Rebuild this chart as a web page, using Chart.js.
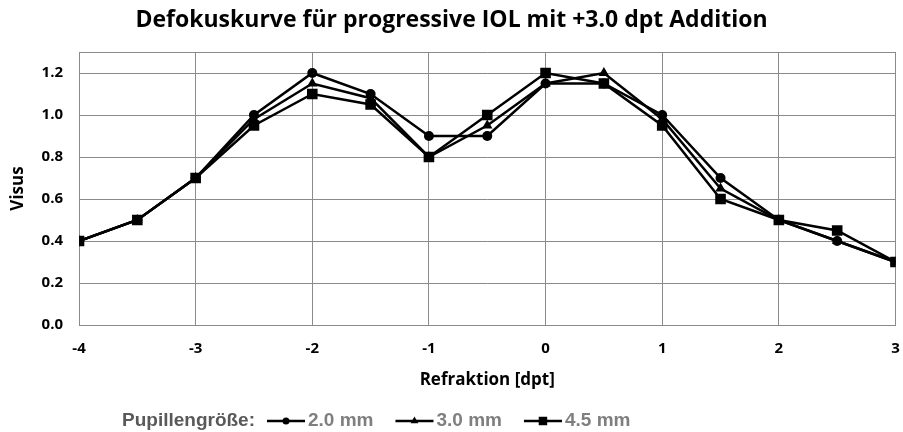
<!DOCTYPE html>
<html>
<head>
<meta charset="utf-8">
<script src="https://cdn.jsdelivr.net/npm/chart.js@4/dist/chart.umd.min.js"></script>
<style>
  html, body { margin: 0; padding: 0; background: #fff; }
  canvas { display: block; }
</style>
</head>
<body>
<canvas id="defocusCanvas" width="903" height="432"></canvas>
<script>
// refraction values (dpt)
var refraktion = [-4, -3.5, -3, -2.5, -2, -1.5, -1, -0.5, 0, 0.5, 1, 1.5, 2, 2.5, 3];

// visual acuity per pupil size
var visus20 = [0.4, 0.5, 0.7, 1.0, 1.2, 1.1, 0.9, 0.9, 1.15, 1.15, 1.0, 0.7, 0.5, 0.4, 0.3];
var visus30 = [0.4, 0.5, 0.7, 0.98, 1.15, 1.08, 0.8, 0.95, 1.15, 1.2, 0.98, 0.65, 0.5, 0.4, 0.3];
var visus45 = [0.4, 0.5, 0.7, 0.95, 1.1, 1.05, 0.8, 1.0, 1.2, 1.15, 0.95, 0.6, 0.5, 0.45, 0.3];

var seriesNames = ["2.0 mm", "3.0 mm", "4.5 mm"];
var xTicks = [-4, -3, -2, -1, 0, 1, 2, 3];
var yTicks = [0, 0.2, 0.4, 0.6, 0.8, 1.0, 1.2];
var yTop = 1.3;

function points(ys) {
  return refraktion.map(function(x, i) { return { x: x, y: ys[i] }; });
}

var gridColor = "#8a8a8a";
var markers = ["circle", "triangle", "rect"];
var markerRadius = [5, 6, 7.5];

function series(i, ys, order) {
  return {
    label: seriesNames[i],
    data: points(ys),
    borderColor: "#000",
    backgroundColor: "#000",
    borderWidth: 2.5,
    pointStyle: markers[i],
    pointRadius: markerRadius[i],
    pointBorderWidth: 0,
    pointBackgroundColor: "#000",
    tension: 0,
    order: order
  };
}

// legend drawn in one row, with the "Pupillengröße:" caption in front
var legendRow = {
  id: "legendRow",
  afterDraw: function(chart) {
    var ctx = chart.ctx;
    var y = 421;
    var x = 122;
    ctx.save();
    ctx.font = "bold 19px 'Liberation Sans', Arial, sans-serif";
    ctx.textBaseline = "middle";
    ctx.textAlign = "left";
    ctx.fillStyle = "#595959";
    ctx.fillText("Pupillengröße:", x, y);
    x += ctx.measureText("Pupillengröße:").width + 12;
    chart.data.datasets.forEach(function(ds) {
      ctx.strokeStyle = "#000";
      ctx.lineWidth = 2.5;
      ctx.beginPath();
      ctx.moveTo(x, y);
      ctx.lineTo(x + 38, y);
      ctx.stroke();
      ctx.fillStyle = "#000";
      Chart.helpers.drawPoint(ctx, { pointStyle: ds.pointStyle, radius: ds.pointRadius - 1.5, borderWidth: 0 }, x + 19, y);
      x += 41;
      ctx.fillStyle = "#7f7f7f";
      ctx.fillText(ds.label, x, y);
      x += ctx.measureText(ds.label).width + 22;
    });
    ctx.restore();
  }
};

var ctx = document.getElementById("defocusCanvas").getContext("2d");
var chart = new Chart(ctx, {
  type: "line",
  data: {
    datasets: [
      series(0, visus20, 2),
      series(1, visus30, 1),
      series(2, visus45, 0)
    ]
  },
  options: {
    responsive: false,
    animation: false,
    devicePixelRatio: 1,
    layout: { padding: { left: 0, right: 0, top: 0, bottom: 42 } },
    plugins: {
      legend: { display: false },
      tooltip: { enabled: false },
      title: {
        display: true,
        text: "Defokuskurve für progressive IOL mit +3.0 dpt Addition",
        color: "#000",
        font: { family: "'Open Sans', sans-serif", size: 23, weight: "bold" },
        padding: { top: 7, bottom: 17.4 }
      }
    },
    scales: {
      x: {
        type: "linear",
        min: -4,
        max: 3,
        afterBuildTicks: function(scale) {
          scale.ticks = xTicks.map(function(v) { return { value: v }; });
        },
        afterFit: function(scale) {
          scale.height = 65;
          scale.paddingLeft = 0;
          scale.paddingRight = 6;
        },
        grid: { color: gridColor, lineWidth: 1, drawTicks: true, tickLength: 15, tickColor: "rgba(0,0,0,0)" },
        border: { color: gridColor, width: 1 },
        ticks: {
          padding: 0,
          color: "#000",
          font: { family: "'Open Sans', sans-serif", size: 15, weight: "bold" },
          callback: function(v) { return String(v); }
        },
        title: {
          display: true,
          text: "Refraktion [dpt]",
          color: "#000",
          font: { family: "'Open Sans', sans-serif", size: 17, weight: "bold" },
          padding: { top: 3, bottom: 0 }
        }
      },
      y: {
        min: 0,
        max: yTop,
        afterBuildTicks: function(scale) {
          scale.ticks = yTicks.concat([yTop]).map(function(v) { return { value: v }; });
        },
        afterFit: function(scale) { scale.width = 79; },
        grid: { color: gridColor, lineWidth: 1, drawTicks: false },
        border: { color: gridColor, width: 1 },
        ticks: {
          padding: 16,
          color: "#000",
          font: { family: "'Open Sans', sans-serif", size: 15, weight: "bold" },
          callback: function(v) { return v === yTop ? "" : Number(v).toFixed(1); }
        },
        title: {
          display: true,
          text: "Visus",
          color: "#000",
          font: { family: "'Open Sans', sans-serif", size: 17, weight: "bold" },
          padding: { top: 8, bottom: 0 }
        }
      }
    }
  },
  plugins: [legendRow]
});
</script>
</body>
</html>
